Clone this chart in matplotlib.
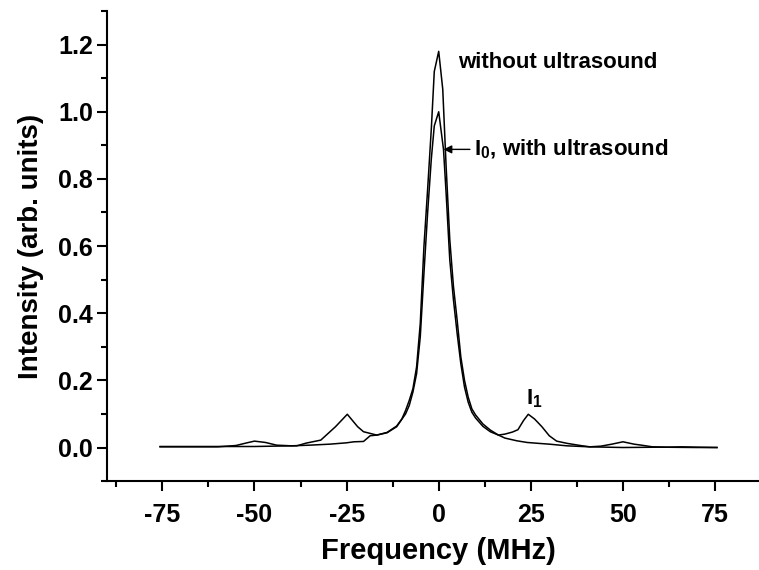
import numpy as np
import matplotlib.pyplot as plt

plt.rcParams['font.family'] = ['Liberation Sans', 'DejaVu Sans']
plt.rcParams['font.weight'] = 'bold'
plt.rcParams['axes.unicode_minus'] = False
plt.rcParams['mathtext.fontset'] = 'custom'
plt.rcParams['mathtext.rm'] = 'Liberation Sans:bold'
plt.rcParams['mathtext.it'] = 'Liberation Sans:bold'
plt.rcParams['mathtext.bf'] = 'Liberation Sans:bold'
plt.rcParams['mathtext.default'] = 'rm'

# spectrum without ultrasound (MHz, arb. units)
freq_off = [-75.6, -65, -60, -50, -45, -40, -35, -29.5, -25, -23, -20.4, -18.6,
            -16.8, -14, -11.4, -10, -9, -8, -7, -6, -5, -4, -3, -2, -1.2, 0,
            1.1, 2, 3, 4, 5, 6, 7, 8, 9, 10, 12, 14, 16.2, 18, 21.2, 24, 27.5,
            30, 34.8, 41, 50, 60, 70, 75.5]
int_off = [0.003, 0.003, 0.003, 0.003, 0.004, 0.005, 0.007, 0.010, 0.014, 0.017,
           0.018, 0.035, 0.037, 0.045, 0.064, 0.085, 0.11, 0.14, 0.175, 0.24,
           0.37, 0.60, 0.77, 0.95, 1.12, 1.18, 1.067, 0.84, 0.62, 0.48, 0.38,
           0.27, 0.20, 0.15, 0.115, 0.097, 0.07, 0.052, 0.037, 0.028, 0.020,
           0.015, 0.012, 0.010, 0.005, 0.002, 0.0, 0.001, 0.0, 0.0]

# spectrum with ultrasound: carrier I0 plus sidebands at +-25 and +-50 MHz
freq_on = [-75.6, -65, -60, -55, -52, -50, -47, -44, -40, -38.5, -36, -32, -28,
           -24.8, -22, -20.4, -16.8, -14, -11.4, -9, -8, -7, -6, -5, -4, -3,
           -2, -1.2, 0, 1.3, 2, 3, 4, 5, 6, 7, 8, 9, 10, 12, 14, 16.2, 18, 20,
           21.5, 23, 24.3, 26, 28, 30, 32, 35, 39, 41, 44, 47, 50, 53, 55, 58,
           62, 66, 70, 75.5]
int_on = [0.002, 0.002, 0.002, 0.006, 0.014, 0.019, 0.015, 0.007, 0.005, 0.005,
          0.013, 0.022, 0.062, 0.099, 0.062, 0.047, 0.037, 0.044, 0.062, 0.10,
          0.125, 0.165, 0.22, 0.33, 0.52, 0.70, 0.86, 0.958, 1.0, 0.888, 0.76,
          0.56, 0.44, 0.34, 0.25, 0.18, 0.135, 0.105, 0.088, 0.063, 0.047,
          0.037, 0.040, 0.046, 0.053, 0.080, 0.099, 0.085, 0.062, 0.035, 0.019,
          0.012, 0.005, 0.002, 0.004, 0.010, 0.017, 0.010, 0.007, 0.002, 0.001,
          0.002, 0.001, 0.0]

x_major = [-75, -50, -25, 0, 25, 50, 75]

fig = plt.figure(figsize=(7.59, 5.70), dpi=100)
# axes run a little past the right edge, like the cropped original
ax = fig.add_axes([0.141, 0.156, 0.874, 0.8246])

ax.plot(freq_off, int_off, color='black', lw=1.1)
ax.plot(freq_on, int_on, color='black', lw=1.1)

ax.set_xlim(-90, 90)
ax.set_ylim(-0.1, 1.3)
ax.set_xticks(x_major)
ax.set_xticks(np.arange(-87.5, 90, 25), minor=True)
ax.set_yticks(np.arange(0, 1.21, 0.2))
ax.set_yticks(np.arange(-0.1, 1.31, 0.2), minor=True)
ax.set_yticklabels([f'{v:.1f}' for v in np.arange(0, 1.21, 0.2)])

for side in ['top', 'right']:
    ax.spines[side].set_visible(False)
for side in ['left', 'bottom']:
    ax.spines[side].set_linewidth(1.5)
ax.tick_params(which='major', direction='out', length=7, width=1.5,
               labelsize=18, pad=3)
ax.tick_params(which='minor', direction='out', length=4, width=1.5)
ax.tick_params(axis='x', which='major', pad=9)

ax.set_xlabel('Frequency (MHz)', fontsize=21, fontweight='bold', labelpad=7)
ax.set_ylabel('Intensity (arb. units)', fontsize=20, fontweight='bold',
              labelpad=10)

ax.text(5.3, 1.148, 'without ultrasound', fontsize=16, fontweight='bold',
        va='center', ha='left')
ax.annotate('I$_0$, with ultrasound', xy=(1.3, 0.888), xytext=(9.6, 0.888),
            fontsize=16, fontweight='bold', va='center', ha='left',
            arrowprops=dict(arrowstyle='-|>', color='black', lw=1.0,
                            mutation_scale=12, shrinkA=1, shrinkB=0))
ax.text(26.0, 0.113, 'I$_1$', fontsize=16, fontweight='bold',
        va='bottom', ha='center')

fig.savefig('out.png', dpi=100)
